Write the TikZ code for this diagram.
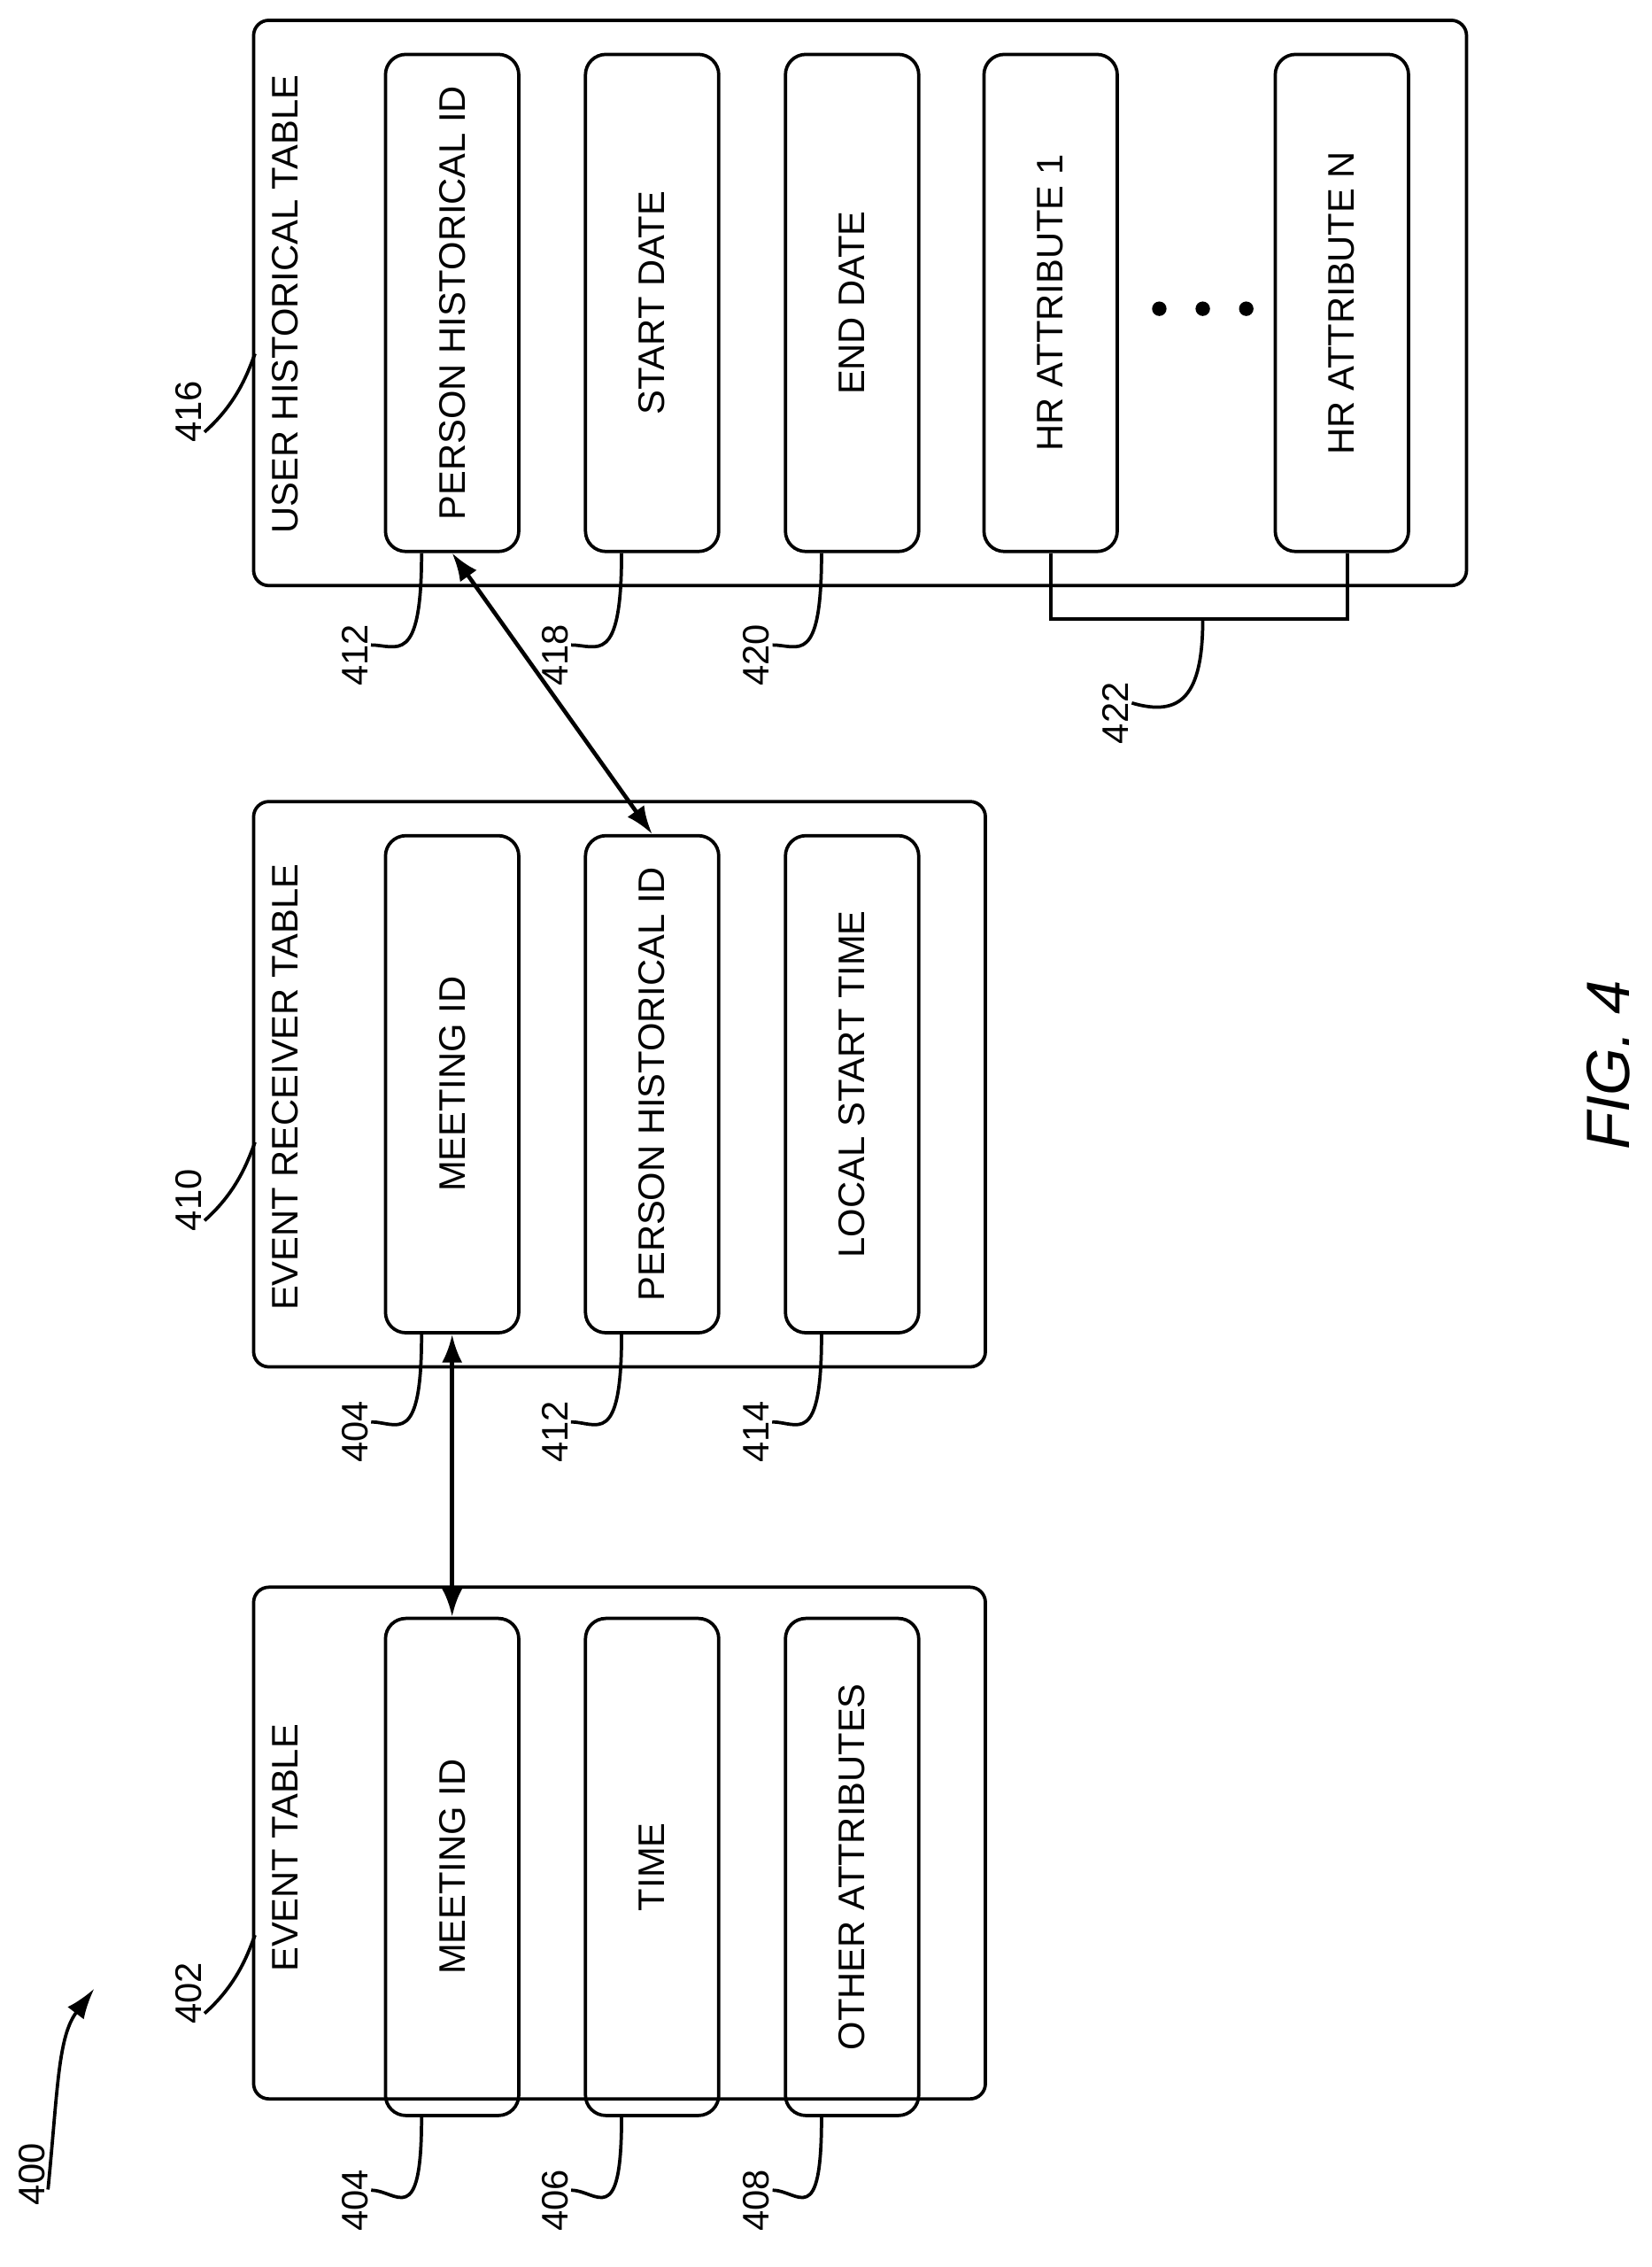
\documentclass[tikz,border=0pt]{standalone}
\usepackage{fontspec}
\setmainfont{Liberation Sans}
\usetikzlibrary{positioning, arrows.meta}
\tikzset{
  table/.style={draw, line width=1.3pt, rounded corners=6pt},
  field/.style={draw, line width=1.3pt, rounded corners=8pt, minimum width=1.84cm, minimum height=6.86cm, inner sep=0pt, font=\fontsize{14.5}{14.5}\selectfont},
  ref/.style={font=\fontsize{14.5}{14.5}\selectfont, inner sep=1pt},
  lead/.style={line width=1.3pt},
  link/.style={line width=1.6pt, {Latex[length=11pt,width=8pt]}-{Latex[length=11pt,width=8pt]}}
}
\newcommand{\vtext}[1]{\rotatebox{90}{#1}}
\begin{document}
\begin{tikzpicture}[x=0.02cm, y=-0.02cm]
  \useasboundingbox (0,0) rectangle (1140,1564);
  % outer tables
  \draw[table] (175,1095) rectangle (680,1448);
  \draw[table] (175,553) rectangle (680,943);
  \draw[table] (175,14) rectangle (1012,404);
  \node[ref] (t1) at (197,1275) {\vtext{EVENT TABLE}};
  \node[ref] (t2) at (197,750) {\vtext{EVENT RECEIVER TABLE}};
  \node[ref] (t3) at (197,210) {\vtext{USER HISTORICAL TABLE}};
  % event table fields
  \node[field] (e1) at (312,1288) {\vtext{MEETING ID}};
  \node[field] (e2) at (450,1288) {\vtext{TIME}};
  \node[field] (e3) at (588,1288) {\vtext{OTHER ATTRIBUTES}};
  % event receiver fields
  \node[field] (r1) at (312,748) {\vtext{MEETING ID}};
  \node[field] (r2) at (450,748) {\vtext{PERSON HISTORICAL ID}};
  \node[field] (r3) at (588,748) {\vtext{LOCAL START TIME}};
  % user historical fields
  \node[field] (u1) at (312,209) {\vtext{PERSON HISTORICAL ID}};
  \node[field] (u2) at (450,209) {\vtext{START DATE}};
  \node[field] (u3) at (588,209) {\vtext{END DATE}};
  \node[field] (u4) at (725,209) {\vtext{HR ATTRIBUTE 1}};
  \node[field] (u5) at (926,209) {\vtext{HR ATTRIBUTE N}};
  \foreach \x in {800,830,860} \fill (\x,213) circle (5);
  % links
  \draw[link] (r1.south) -- (e1.north);
  \draw[link] (u1.south) -- (r2.north);
  % brace
  \draw[lead] (u4.south) -- (725,427) -- (930,427) -- (u5.south -| 930,0);
  \coordinate (b) at (830,427);
  \node[ref] (n422) at (770,492) {\vtext{422}};
  \draw[lead] (b) .. controls (830,480) and (815,495) .. ([yshift=4]n422.east);
  % reference labels under fields
  \foreach \f/\n/\x/\y in {e1/404/245/1518, e2/406/383/1518, e3/408/522/1518,
                          r1/404/245/988, r2/412/383/988, r3/414/522/988,
                          u1/412/245/452, u2/418/383/452, u3/420/522/452} {
    \node[ref] (l\f) at (\x,\y) {\vtext{\n}};
    \draw[lead] ([xshift=-12]\f.south) .. controls ([xshift=-12,yshift=-45]\f.south) and ([xshift=10,yshift=4]l\f.east) .. ([yshift=4]l\f.east);
  }
  % table labels
  \node[ref] (n402) at (130,1375) {\vtext{402}};
  \node[ref] (n410) at (130,828) {\vtext{410}};
  \node[ref] (n416) at (130,284) {\vtext{416}};
  \draw[lead] ([yshift=-8]n402.east) .. controls (165,1368) and (172,1345) .. (176,1335);
  \draw[lead] ([yshift=-8]n410.east) .. controls (165,821) and (172,798) .. (176,788);
  \draw[lead] ([yshift=-8]n416.east) .. controls (165,277) and (172,254) .. (176,244);
  % figure number
  \node[ref] (n400) at (22,1500) {\vtext{400}};
  \draw[lead, -{Latex[length=12pt,width=8pt]}] ([yshift=-6]n400.east) .. controls (40,1440) and (40,1405) .. (65,1372);
  \node[font=\fontsize{24}{24}\itshape] (fig) at (1110,735) {\vtext{FIG. 4}};
\end{tikzpicture}
\end{document}
